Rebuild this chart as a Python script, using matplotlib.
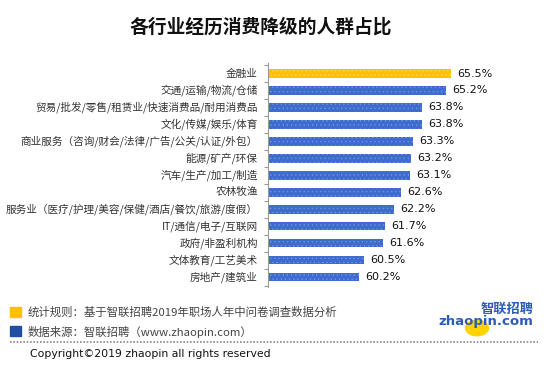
import matplotlib
matplotlib.use("Agg")
import matplotlib.pyplot as plt
from matplotlib.patches import Rectangle, Circle
from matplotlib.lines import Line2D

plt.rcParams['font.family'] = ['Noto Sans CJK SC', 'DejaVu Sans']
plt.rcParams['hatch.linewidth'] = 0.5

categories = ["金融业", "交通/运输/物流/仓储", "贸易/批发/零售/租赁业/快速消费品/耐用消费品",
              "文化/传媒/娱乐/体育", "商业服务（咨询/财会/法律/广告/公关/认证/外包）",
              "能源/矿产/环保", "汽车/生产/加工/制造", "农林牧渔",
              "服务业（医疗/护理/美容/保健/酒店/餐饮/旅游/度假）", "IT/通信/电子/互联网",
              "政府/非盈利机构", "文体教育/工艺美术", "房地产/建筑业"]
values = [65.5, 65.2, 63.8, 63.8, 63.3, 63.2, 63.1, 62.6, 62.2, 61.7, 61.6, 60.5, 60.2]
highlight = "金融业"

title = "各行业经历消费降级的人群占比"
note1 = "统计规则：基于智联招聘2019年职场人年中问卷调查数据分析"
note2 = "数据来源：智联招聘（www.zhaopin.com）"
copyright_text = "Copyright©2019 zhaopin all rights reserved"

W, H = 548, 368
fig = plt.figure(figsize=(W / 100, H / 100), dpi=100)
fig.patch.set_facecolor("white")

ax = fig.add_axes([268.3 / W, 1 - 287 / H, (530 - 268.3) / W, (287 - 63) / H])
xmin = 55
ypos = list(range(len(categories)))
colors = ["#FFC000" if c == highlight else "#3D6BD0" for c in categories]
hcols = ["#FFD966" if c == highlight else "#7393DC" for c in categories]
bars = ax.barh(ypos, [v - xmin for v in values], left=xmin, height=0.5,
               color=colors, linewidth=0)
for b, hc in zip(bars, hcols):
    b.set_hatch("....")
    b.set_edgecolor(hc)
    b.set_linewidth(0)

ax.set_xlim(xmin, 70)
ax.set_ylim(len(categories) - 0.42, -0.62)
ax.set_xticks([])
ax.set_yticks([i + 0.5 for i in range(-1, len(categories))])
ax.set_yticklabels([])
ax.tick_params(axis='y', length=3, color="#999999", width=0.8)
for s in ["top", "right", "bottom"]:
    ax.spines[s].set_visible(False)
ax.spines["left"].set_color("#999999")
ax.spines["left"].set_linewidth(0.8)

for i, (c, v) in enumerate(zip(categories, values)):
    ax.annotate(c, xy=(xmin, i), xytext=(-7.5, 0), textcoords="offset points",
                ha="right", va="center", fontsize=7.65, color="#333333")
    ax.annotate(f"{v:.1f}%", xy=(v, i), xytext=(4.5, 0), textcoords="offset points",
                ha="left", va="center", fontsize=8, color="#111111",
                family=["DejaVu Sans"])

fig.text(261 / W, 1 - 27 / H, title, ha="center", va="center", fontsize=13.5,
         fontweight="bold", color="#111111")

# footer
fig.patches.append(Rectangle((10 / W, 1 - 317 / H), 11 / W, 10.5 / H,
                             transform=fig.transFigure, color="#FFC000", figure=fig))
fig.patches.append(Rectangle((10 / W, 1 - 336 / H), 11 / W, 10.5 / H,
                             transform=fig.transFigure, color="#1F4FA0", figure=fig))
fig.text(28 / W, 1 - 312.5 / H, note1, ha="left", va="center", fontsize=8.2, color="#444444")
fig.text(28 / W, 1 - 332.5 / H, note2, ha="left", va="center", fontsize=8.2, color="#444444")
fig.lines.append(Line2D([10 / W, 538 / W], [1 - 341.5 / H] * 2, transform=fig.transFigure,
                        color="#888888", linestyle=(0, (1, 1)), linewidth=1.2, figure=fig))
fig.text(30 / W, 1 - 354 / H, copyright_text, ha="left", va="center", fontsize=7.8,
         color="#111111", family=["DejaVu Sans"])

# logo
fig.patches.append(Circle((477 / W, 1 - 328 / H), 11.5 / W, transform=fig.transFigure,
                          color="#FFD200", figure=fig))
fig.text(507 / W, 1 - 309 / H, "智联招聘", ha="center", va="center", fontsize=9.5,
         fontweight="bold", color="#2A5CB8", style="italic")
fig.text(486 / W, 1 - 322 / H, "zhaopin.com", ha="center", va="center", fontsize=9.5,
         fontweight="bold", color="#2A5CB8", family=["DejaVu Sans"])

fig.savefig("out.png", dpi=100, facecolor="white")
